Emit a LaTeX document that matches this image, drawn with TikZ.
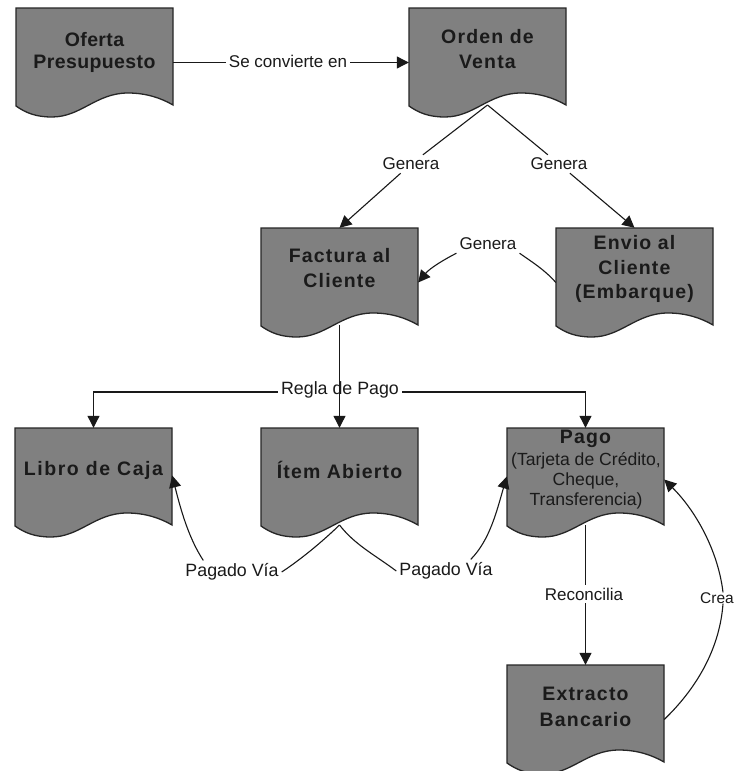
\documentclass[tikz,border=0pt]{standalone}
\usepackage{fontspec}
\setmainfont{Liberation Sans}
\usetikzlibrary{arrows.meta}
\definecolor{docgray}{HTML}{808080}
\definecolor{inkdark}{HTML}{1A1A1A}
\tikzset{
  docoutline/.style={draw=black!85,line width=1.3pt,fill=docgray,line join=miter},
  docframe/.style={inner sep=0pt,minimum width=157pt,minimum height=109pt},
  doctext/.style={font=\fontsize{19.5}{24.5}\selectfont\bfseries\addfontfeature{LetterSpace=6},align=center,text=inkdark,inner sep=0pt},
  edgelabel/.style={font=\fontsize{17}{20}\selectfont,text=inkdark,inner sep=3pt},
  flow/.style={draw=black!90,line width=1.1pt},
  flowarrow/.style={flow,-{Triangle[length=12pt,width=12pt]}}
}
\newcommand{\docnode}[5]{%
  \draw[docoutline,shift={(#2,#3)}] (0,0) -- (157,0) -- (157,97)
     .. controls (145,90) and (130,85) .. (112,85)
     .. controls (80,85) and (65,109) .. (36,109)
     .. controls (20,109) and (10,105) .. (0,98) -- cycle;
  \node[docframe] (#1) at ({#2+78.5},{#3+54.5}) {};
  \coordinate (#1-b) at ({#2+78.5},{#3+97});
  \node[doctext] (#1-t) at ({#2+78.5},#4) {#5};
}
\begin{document}
\begin{tikzpicture}[x=1pt,y=-1pt]
\useasboundingbox (0,0) rectangle (734,771);
\clip (0,0) rectangle (734,771);
\fill[white] (0,0) rectangle (734,771);

\docnode{oferta}{16}{8}{52}{\addfontfeature{LetterSpace=2}Oferta\\[-2.5pt]\addfontfeature{LetterSpace=2}Presupuesto}
\docnode{orden}{409}{8}{49}{Orden de\\Venta}
\docnode{factura}{261}{228}{268}{Factura al\\Cliente}
\docnode{envio}{556}{228}{269}{Envio al\\Cliente\\(Embarque)}
\docnode{libro}{15}{428}{470}{\addfontfeature{LetterSpace=8}Libro de Caja}
\docnode{item}{261}{428}{470}{Ítem Abierto}
\docnode{pago}{507}{428}{439}{Pago}
\docnode{extracto}{507}{665}{707}{Extracto\\[1pt]Bancario}

\node[font=\fontsize{17.6}{20}\selectfont,text=inkdark,align=center,inner sep=0pt] (pagodet) at (586,481)
  {(Tarjeta de Crédito,\\Cheque,\\Transferencia)};

\node[edgelabel] (conv) at (288,61) {Se convierte en};
\node[edgelabel] (gen1) at (411,164) {Genera};
\node[edgelabel] (gen2) at (559,164) {Genera};
\node[edgelabel] (gen3) at (488,244) {Genera};
\node[edgelabel,font=\fontsize{17.8}{20}\selectfont] (regla) at (340,389.5) {Regla de Pago};
\node[edgelabel,font=\fontsize{17.8}{20}\selectfont] (pv1) at (232,572) {Pagado Vía};
\node[edgelabel,font=\fontsize{17.8}{20}\selectfont] (pv2) at (446,571) {Pagado Vía};
\node[edgelabel] (recon) at (584,594) {Reconcilia};
\node[edgelabel,anchor=west,inner sep=0pt,font=\fontsize{15.5}{18}\selectfont] (crea) at (700,598) {Crea};

\draw[flow] (oferta.east) -- ([yshift=-1.5pt]conv.west);
\draw[flowarrow] ([yshift=-1.5pt]conv.east) -- (orden.west);
\draw[flow] (orden-b) -- (gen1);
\draw[flowarrow] (gen1) -- (factura.north);
\draw[flow] (orden-b) -- (gen2);
\draw[flowarrow] (gen2) -- (envio.north);
\draw[flow] (envio.west) .. controls (545,270) and (532,262) .. (gen3.south east);
\draw[flowarrow] (gen3.south west) .. controls (445,259) and (430,268) .. (factura.east);

\draw[flowarrow] (factura-b) -- (item.north);
\draw[flowarrow] ([yshift=-2.5pt]regla.west) -| (libro.north);
\draw[flowarrow] ([yshift=-2.5pt]regla.east) -| (pago.north);

\draw[flow] (item-b) .. controls (322,542) and (300,560) .. (pv1.east);
\draw[flowarrow] ([xshift=21pt]pv1.north west) .. controls (190,540) and (182,515) .. ([yshift=7pt]libro.east);
\draw[flow] (item-b) .. controls (355,545) and (375,555) .. (pv2.west);
\draw[flowarrow] ([xshift=-25pt]pv2.north east) .. controls (490,540) and (497,510) .. ([yshift=6pt]pago.west);

\draw[flow] (pago-b) -- (recon.north -| pago-b);
\draw[flowarrow] (recon.south -| pago-b) -- (extracto.north);
\draw[flow] (extracto.east) .. controls (700,685) and (720,645) .. (crea.south west -| 723,0);
\draw[flowarrow] (crea.north west -| 723,0) .. controls (718,550) and (695,510) .. ([yshift=3pt]pago.east);
\end{tikzpicture}
\end{document}
